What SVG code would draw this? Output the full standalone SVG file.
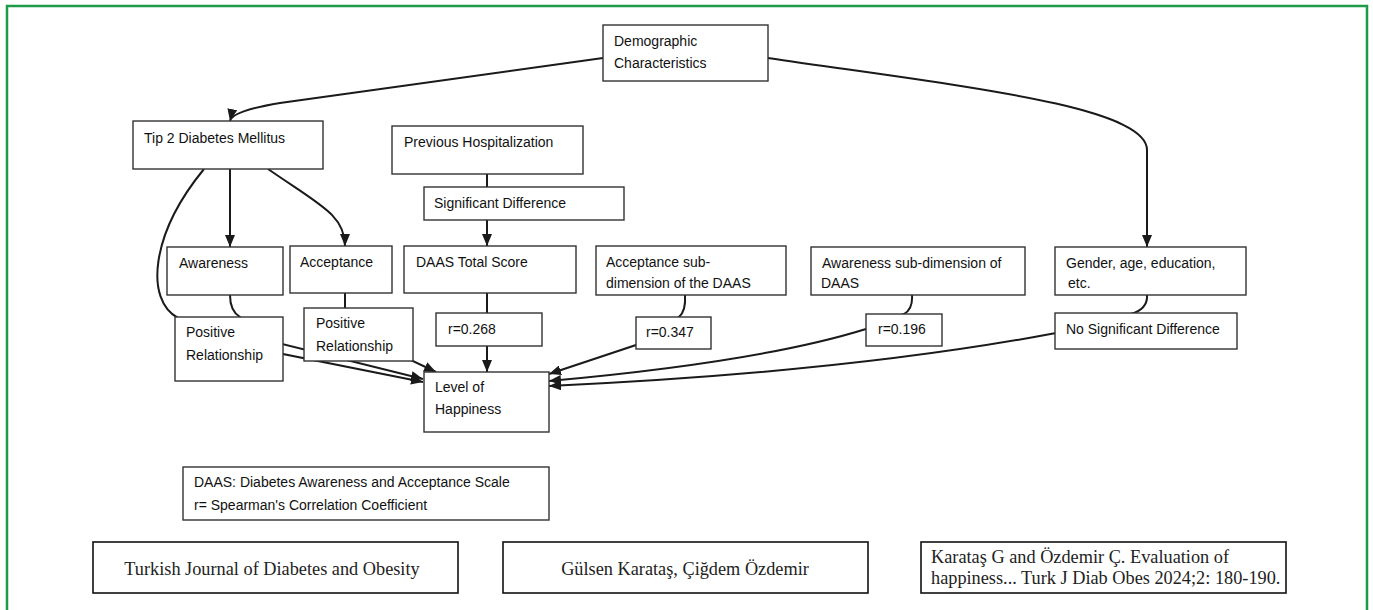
<svg xmlns="http://www.w3.org/2000/svg" width="1373" height="610" viewBox="0 0 1373 610">
<defs>
<marker id="ah" viewBox="0 0 12 10" refX="12" refY="5" markerWidth="12" markerHeight="10" markerUnits="userSpaceOnUse" orient="auto">
<path d="M0,0 L12,5 L0,10 z" fill="#1a1a1a"/>
</marker>
<style>
.box{fill:#fff;stroke:#333;stroke-width:1.4}
.fbox{fill:#fff;stroke:#111;stroke-width:1.6}
.t{font-family:"Liberation Sans",Arial,sans-serif;font-size:14px;fill:#111}
.s{font-family:"Liberation Serif","Times New Roman",serif;font-size:18.3px;fill:#222}
.c{fill:none;stroke:#1a1a1a;stroke-width:2}
.a{marker-end:url(#ah)}
</style>
</defs>
<rect x="0" y="0" width="1373" height="610" fill="#fff"/>
<rect x="7" y="6" width="1360" height="620" fill="none" stroke="#1e9a4b" stroke-width="2.5"/>
<g id="connectors">
<path class="c a" d="M603,58 L280,103 Q232,111 230,121"/>
<path class="c a" d="M768,58 C950,85 1147,105 1147,150 L1147,247"/>
<path class="c a" d="M230,169 L230,247"/>
<path class="c a" d="M268,169 C320,205 345,215 345,246"/>
<path class="c a" d="M204,169 C150,235 145,300 178,318 L423,379"/>
<path class="c a" d="M230,295 Q230,311 240,317 L283,354 L423,382"/>
<path class="c a" d="M345,293 L345,308 L400,355 L436,372"/>
<path class="c" d="M487,174 L487,187"/>
<path class="c a" d="M487,220 L487,246"/>
<path class="c a" d="M487,293 L487,372"/>
<path class="c a" d="M685,295 Q686,311 679,317 L636,345 L549,374"/>
<path class="c a" d="M912,295 Q913,309 904,314 L866,329 Q760,362 549,381"/>
<path class="c a" d="M1147,295 Q1148,309 1131,314 L1056,333 Q850,372 549,386"/>
</g>
<g id="demographic"><rect class="box" x="603" y="25" width="165" height="56"/><text class="t" x="614" y="46">Demographic</text><text class="t" x="614" y="68">Characteristics</text></g>
<g id="tip2"><rect class="box" x="133" y="121" width="190" height="48"/><text class="t" x="144" y="143">Tip 2 Diabetes Mellitus</text></g>
<g id="prevhosp"><rect class="box" x="392" y="126" width="191" height="48"/><text class="t" x="404" y="147">Previous Hospitalization</text></g>
<g id="sigdiff"><rect class="box" x="424" y="187" width="200" height="33"/><text class="t" x="434" y="208">Significant Difference</text></g>
<g id="awareness"><rect class="box" x="167" y="247" width="116" height="48"/><text class="t" x="179" y="268">Awareness</text></g>
<g id="acceptance"><rect class="box" x="290" y="246" width="102" height="47"/><text class="t" x="300" y="267">Acceptance</text></g>
<g id="daastotal"><rect class="box" x="404" y="246" width="172" height="47"/><text class="t" x="416" y="267">DAAS Total Score</text></g>
<g id="accsub"><rect class="box" x="596" y="246" width="190" height="49"/><text class="t" x="606" y="267">Acceptance sub-</text><text class="t" x="606" y="288">dimension of the DAAS</text></g>
<g id="awsub"><rect class="box" x="811" y="247" width="214" height="48"/><text class="t" x="822" y="268">Awareness sub-dimension of</text><text class="t" x="821" y="288">DAAS</text></g>
<g id="gender"><rect class="box" x="1055" y="247" width="191" height="48"/><text class="t" x="1066" y="268">Gender, age, education,</text><text class="t" x="1068" y="288">etc.</text></g>
<g id="posrel1"><rect class="box" x="175" y="317" width="108" height="64"/><text class="t" x="186" y="337">Positive</text><text class="t" x="186" y="360">Relationship</text></g>
<g id="posrel2"><rect class="box" x="304" y="308" width="109" height="53"/><text class="t" x="316" y="328">Positive</text><text class="t" x="316" y="351">Relationship</text></g>
<g id="r268"><rect class="box" x="436" y="313" width="106" height="33"/><text class="t" x="448" y="334">r=0.268</text></g>
<g id="r347"><rect class="box" x="636" y="317" width="75" height="32"/><text class="t" x="646" y="337">r=0.347</text></g>
<g id="r196"><rect class="box" x="866" y="314" width="76" height="32"/><text class="t" x="878" y="334">r=0.196</text></g>
<g id="nosig"><rect class="box" x="1055" y="313" width="182" height="36"/><text class="t" x="1066" y="334">No Significant Difference</text></g>
<g id="happiness"><rect class="box" x="424" y="372" width="125" height="60"/><text class="t" x="435" y="392">Level of</text><text class="t" x="435" y="414">Happiness</text></g>
<g id="legend"><rect class="box" x="183" y="467" width="366" height="53"/><text class="t" x="194" y="487">DAAS: Diabetes Awareness and Acceptance Scale</text><text class="t" x="194" y="510">r= Spearman's Correlation Coefficient</text></g>
<g id="journal"><rect class="fbox" x="93" y="542" width="365" height="51"/><text class="s" x="272" y="575" text-anchor="middle">Turkish Journal of Diabetes and Obesity</text></g>
<g id="authors"><rect class="fbox" x="503" y="542" width="365" height="51"/><text class="s" x="685" y="575" text-anchor="middle">Gülsen Karataş, Çiğdem Özdemir</text></g>
<g id="citation"><rect class="fbox" x="921" y="542" width="365" height="51"/><text class="s" x="931" y="563">Karataş G and Özdemir Ç. Evaluation of</text><text class="s" x="931" y="584">happiness... Turk J Diab Obes 2024;2: 180-190.</text></g>
</svg>
